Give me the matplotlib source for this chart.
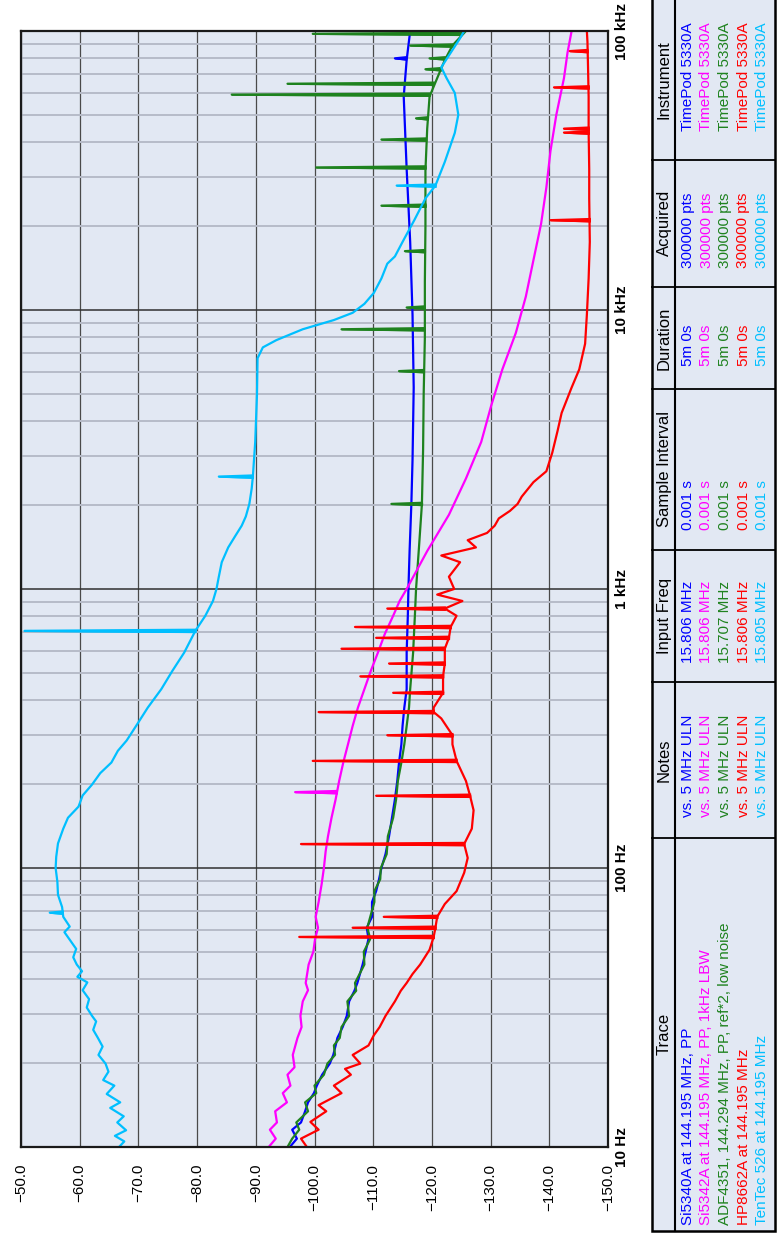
import numpy as np
import matplotlib
matplotlib.use("Agg")
import matplotlib.pyplot as plt
from matplotlib.lines import Line2D
from matplotlib.patches import Rectangle
from matplotlib.ticker import LogLocator, NullFormatter

plt.rcParams['font.family'] = ['Liberation Sans', 'DejaVu Sans']

W, H = 782, 1237

# offset frequency as log10(Hz), phase noise in dBc/Hz
si5340_logf = [1.000, 1.030, 1.062, 1.088, 1.128, 1.160, 1.193, 1.220, 1.259, 1.299,
               1.330, 1.364, 1.391, 1.430, 1.470, 1.522, 1.560, 1.588, 1.654, 1.700,
               1.746, 1.786, 1.825, 1.878, 1.917, 1.960, 2.000, 2.050, 2.114, 2.180,
               2.246, 2.312, 2.378, 2.443, 2.509, 2.575, 2.641, 2.772, 2.904, 3.000,
               3.136, 3.305, 3.462, 3.722, 3.983, 4.244, 4.505, 4.765, 4.896, 5.000]
si5340_dbc = [-95.8, -97.0, -96.2, -97.7, -98.4, -98.9, -99.9, -100.4, -101.3, -102.6,
              -103.2, -103.6, -103.9, -104.8, -105.5, -105.9, -106.8, -107.3, -108.2, -108.7,
              -109.2, -108.9, -109.8, -109.8, -110.5, -111.0, -111.4, -112.1, -112.7, -113.2,
              -113.7, -114.1, -114.4, -114.8, -115.0, -115.3, -115.7, -115.7, -115.9, -116.0,
              -116.2, -116.5, -116.7, -116.9, -116.7, -116.3, -115.7, -115.2, -115.7, -116.3]
si5340_spur_logf = [4.902]
si5340_spur_base = [-115.6]
si5340_spur_peak = [-113.7]

si5342_logf = [1.000, 1.030, 1.062, 1.088, 1.128, 1.160, 1.193, 1.220, 1.259, 1.286,
               1.330, 1.391, 1.430, 1.470, 1.522, 1.562, 1.588, 1.654, 1.700, 1.746,
               1.786, 1.825, 1.878, 1.940, 2.000, 2.060, 2.114, 2.180, 2.246, 2.312,
               2.378, 2.443, 2.509, 2.575, 2.641, 2.707, 2.772, 2.840, 2.904, 2.957,
               3.000, 3.136, 3.266, 3.396, 3.527, 3.657, 3.787, 3.918, 4.048, 4.179,
               4.309, 4.439, 4.570, 4.700, 4.831, 4.922, 5.000]
si5342_dbc = [-92.2, -93.4, -92.4, -93.6, -93.3, -95.3, -94.6, -95.9, -95.4, -96.6,
              -96.3, -97.1, -97.8, -97.6, -98.0, -98.9, -98.5, -99.0, -99.8, -100.1,
              -100.6, -100.2, -100.7, -101.2, -101.6, -101.9, -102.3, -102.9, -103.6, -104.2,
              -104.9, -105.7, -106.5, -107.4, -108.5, -109.6, -110.8, -112.0, -113.4, -114.5,
              -115.7, -119.2, -122.9, -125.8, -128.4, -130.1, -132.0, -134.3, -136.0, -137.3,
              -138.6, -139.5, -140.2, -141.2, -142.5, -143.1, -143.8]
si5342_spur_logf = [2.272]
si5342_spur_base = [-103.8]
si5342_spur_peak = [-96.7]

adf4351_logf = [1.000, 1.030, 1.062, 1.088, 1.128, 1.160, 1.193, 1.220, 1.259, 1.299,
                1.330, 1.364, 1.391, 1.430, 1.470, 1.522, 1.560, 1.588, 1.654, 1.700,
                1.746, 1.786, 1.825, 1.878, 1.917, 1.960, 2.000, 2.050, 2.114, 2.180,
                2.246, 2.312, 2.378, 2.443, 2.509, 2.575, 2.641, 2.772, 2.904, 3.000,
                3.150, 3.305, 3.500, 3.700, 3.900, 4.100, 4.300, 4.500, 4.650, 4.765,
                4.831, 4.896, 4.948, 5.000]
adf4351_dbc = [-95.4, -96.2, -97.4, -96.9, -98.9, -98.4, -100.3, -100.0, -101.6, -102.2,
               -103.5, -103.3, -104.3, -104.6, -105.9, -105.6, -107.1, -106.9, -108.5, -108.4,
               -109.5, -109.0, -109.5, -110.2, -110.2, -111.2, -111.3, -112.3, -112.5, -113.4,
               -113.9, -114.2, -114.8, -115.3, -115.7, -116.1, -116.3, -116.8, -117.1, -117.3,
               -117.8, -118.3, -118.5, -118.6, -118.8, -118.8, -118.9, -118.9, -119.2, -119.6,
               -120.9, -122.2, -123.5, -125.8]
adf4351_spur_logf = [3.305, 3.781, 3.931, 4.009, 4.211, 4.374, 4.511, 4.611, 4.687,
                     4.772, 4.811, 4.863, 4.902, 4.948, 4.990]
adf4351_spur_base = [-118.3, -118.6, -118.7, -118.7, -118.8, -118.9, -118.9, -119.0, -119.3,
                     -119.6, -120.3, -121.5, -122.2, -123.5, -125.0]
adf4351_spur_peak = [-113.1, -114.4, -104.6, -115.7, -115.4, -111.4, -100.3, -111.4, -117.3,
                     -85.9, -95.4, -118.9, -119.6, -116.3, -99.7]

hp8662_logf = [1.000, 1.030, 1.062, 1.090, 1.128, 1.150, 1.193, 1.220, 1.259, 1.280,
               1.299, 1.330, 1.364, 1.400, 1.430, 1.470, 1.522, 1.560, 1.588, 1.620,
               1.654, 1.707, 1.753, 1.786, 1.825, 1.871, 1.917, 1.983, 2.036, 2.086,
               2.141, 2.207, 2.259, 2.312, 2.384, 2.443, 2.476, 2.536, 2.559, 2.575,
               2.628, 2.687, 2.733, 2.786, 2.825, 2.864, 2.904, 2.930, 2.957, 2.980,
               3.000, 3.044, 3.096, 3.120, 3.149, 3.175, 3.201, 3.227, 3.253, 3.280,
               3.305, 3.331, 3.383, 3.422, 3.488, 3.566, 3.631, 3.722, 3.787, 3.879,
               3.983, 4.113, 4.244, 4.400, 4.505, 4.641, 4.765, 4.870, 4.961, 5.000]
hp8662_dbc = [-98.7, -97.7, -100.7, -99.3, -102.0, -100.7, -104.6, -103.3, -106.2, -105.2,
              -107.8, -106.5, -109.2, -110.1, -111.1, -112.1, -113.7, -114.7, -115.7, -116.7,
              -118.0, -119.6, -120.3, -120.6, -120.9, -122.2, -124.2, -125.5, -126.1, -125.5,
              -126.8, -127.1, -126.5, -125.8, -124.2, -123.5, -123.5, -121.6, -120.3, -120.3,
              -121.9, -121.9, -122.2, -122.2, -122.9, -123.2, -124.2, -122.2, -125.2, -120.9,
              -123.8, -122.9, -124.8, -121.6, -127.5, -126.1, -129.4, -130.7, -131.4, -133.3,
              -134.6, -135.3, -137.3, -139.5, -140.5, -141.4, -142.1, -143.8, -145.1, -146.1,
              -146.4, -146.7, -146.9, -146.8, -146.8, -146.7, -146.7, -146.6, -146.5, -146.4]
hp8662_spur_logf = [1.753, 1.786, 1.825, 2.086, 2.259, 2.384, 2.476, 2.559, 2.628, 2.687,
                    2.733, 2.786, 2.825, 2.864, 2.930, 4.322, 4.636, 4.650, 4.798, 4.928]
hp8662_spur_base = [-120.3, -120.6, -120.9, -125.5, -126.5, -124.2, -123.5, -120.3, -121.9, -121.9,
                    -122.2, -122.2, -122.9, -123.2, -122.2, -146.9, -146.7, -146.7, -146.7, -146.5]
hp8662_spur_peak = [-97.4, -106.5, -111.8, -97.7, -110.5, -99.7, -112.4, -100.7, -113.4, -107.8,
                    -112.7, -104.6, -110.5, -106.9, -112.4, -140.2, -142.5, -142.5, -140.8, -143.5]

tentec_logf = [1.000, 1.020, 1.040, 1.060, 1.088, 1.110, 1.140, 1.160, 1.190, 1.220,
               1.240, 1.270, 1.299, 1.330, 1.360, 1.391, 1.420, 1.450, 1.470, 1.500,
               1.530, 1.562, 1.590, 1.610, 1.630, 1.654, 1.680, 1.710, 1.746, 1.770,
               1.790, 1.825, 1.860, 1.904, 1.950, 2.000, 2.040, 2.088, 2.141, 2.180,
               2.220, 2.260, 2.299, 2.340, 2.378, 2.420, 2.457, 2.509, 2.575, 2.641,
               2.707, 2.772, 2.850, 2.904, 2.957, 3.000, 3.044, 3.096, 3.149, 3.190,
               3.227, 3.260, 3.305, 3.360, 3.403, 3.527, 3.696, 3.827, 3.866, 3.892,
               3.931, 3.964, 3.990, 4.022, 4.061, 4.113, 4.166, 4.192, 4.244, 4.322,
               4.400, 4.446, 4.531, 4.635, 4.700, 4.778, 4.831, 4.870, 4.922, 4.974,
               5.000]
tentec_dbc = [-66.7, -67.6, -66.0, -67.9, -66.4, -67.5, -65.2, -66.9, -64.6, -65.9,
              -64.0, -64.9, -64.4, -63.2, -63.9, -63.1, -62.3, -62.8, -62.1, -61.2,
              -61.6, -60.5, -61.3, -59.6, -60.4, -59.5, -58.9, -59.4, -58.2, -57.4,
              -58.3, -57.2, -57.0, -56.3, -56.2, -55.9, -56.0, -56.3, -57.2, -58.0,
              -59.8, -60.5, -62.1, -63.5, -65.4, -66.5, -68.0, -69.6, -71.6, -73.9,
              -75.8, -77.8, -79.7, -81.4, -82.7, -83.3, -83.7, -84.2, -85.3, -86.5,
              -87.6, -88.3, -88.9, -89.3, -89.5, -89.9, -90.2, -90.3, -91.2, -93.5,
              -98.0, -103.3, -106.5, -108.5, -110.1, -111.4, -112.4, -113.7, -115.0, -117.0,
              -118.9, -120.6, -122.2, -123.9, -124.5, -123.9, -122.5, -121.6, -123.2, -124.8,
              -125.5]
tentec_spur_logf = [1.840, 2.850, 3.403, 4.446]
tentec_spur_base = [-57.1, -79.7, -89.5, -120.6]
tentec_spur_peak = [-54.9, -50.6, -83.7, -114.0]

# table contents
trace_names = ["Si5340A at 144.195 MHz, PP",
               "Si5342A at 144.195 MHz, PP, 1kHz LBW",
               "ADF4351, 144.294 MHz, PP, ref*2, low noise",
               "HP8662A at 144.195 MHz",
               "TenTec 526 at 144.195 MHz"]
notes = ["vs. 5 MHz ULN", "vs. 5 MHz ULN", "vs. 5 MHz ULN", "vs. 5 MHz ULN", "vs. 5 MHz ULN"]
input_freq = ["15.806 MHz", "15.806 MHz", "15.707 MHz", "15.806 MHz", "15.805 MHz"]
sample_interval = ["0.001 s", "0.001 s", "0.001 s", "0.001 s", "0.001 s"]
duration = ["5m 0s", "5m 0s", "5m 0s", "5m 0s", "5m 0s"]
acquired = ["300000 pts", "300000 pts", "300000 pts", "300000 pts", "300000 pts"]
instrument = ["TimePod 5330A", "TimePod 5330A", "TimePod 5330A", "TimePod 5330A", "TimePod 5330A"]

colors = ["#0000FF", "#FF00FF", "#1E821E", "#FF0000", "#00BFFF"]

db_ticks = [-50, -60, -70, -80, -90, -100, -110, -120, -130, -140, -150]
freq_ticks = [10, 100, 1000, 10000, 100000]
freq_labels = ["10 Hz", "100 Hz", "1 kHz", "10 kHz", "100 kHz"]

BG = "#E2E8F3"
SPUR_W = 0.004
LW = 1.6


def fx(px):
    return px / W


def fy(py):
    return 1 - py / H


def draw_trace(ax, logf, dbc, spur_logf, spur_base, spur_peak, color):
    ax.plot(dbc, np.power(10.0, logf), color=color, lw=LW)
    # spurs drawn as thin spikes off the trace
    for lf, b, p in zip(spur_logf, spur_base, spur_peak):
        f = np.power(10.0, [lf - SPUR_W, lf, lf + SPUR_W])
        ax.fill_betweenx(f, [b, p, b], [b, b, b], color=color, lw=1.0)
        ax.plot([b, p, b], f, color=color, lw=LW)


fig = plt.figure(figsize=(W / 100, H / 100), dpi=100)
ax = fig.add_axes([fx(21), fy(1147), fx(608) - fx(21), fy(31) - fy(1147)])
ax.set_facecolor(BG)
ax.set_yscale('log')

draw_trace(ax, si5340_logf, si5340_dbc, si5340_spur_logf, si5340_spur_base, si5340_spur_peak, colors[0])
draw_trace(ax, adf4351_logf, adf4351_dbc, adf4351_spur_logf, adf4351_spur_base, adf4351_spur_peak, colors[2])
draw_trace(ax, si5342_logf, si5342_dbc, si5342_spur_logf, si5342_spur_base, si5342_spur_peak, colors[1])
draw_trace(ax, hp8662_logf, hp8662_dbc, hp8662_spur_logf, hp8662_spur_base, hp8662_spur_peak, colors[3])
draw_trace(ax, tentec_logf, tentec_dbc, tentec_spur_logf, tentec_spur_base, tentec_spur_peak, colors[4])

ax.set_xlim(-50, -150)
ax.set_ylim(10, 100000)

ax.set_xticks(db_ticks, [f"{t:.1f}".replace("-", "\u2212") for t in db_ticks],
              rotation=90, fontsize=11)
ax.yaxis.tick_right()
ax.set_yticks(freq_ticks, freq_labels, rotation=90, va='center', fontsize=11, fontweight='bold')
ax.yaxis.set_minor_locator(LogLocator(base=10, subs=np.arange(2, 10)))
ax.yaxis.set_minor_formatter(NullFormatter())
ax.tick_params(axis='x', length=0, pad=12)
ax.tick_params(axis='y', which='both', length=0, pad=5)

ax.grid(True, which='major', axis='x', color='#4A4A4A', lw=0.9)
ax.grid(True, which='major', axis='y', color='#303030', lw=1.1)
ax.grid(True, which='minor', axis='y', color='#B6BBC8', lw=1.4)
ax.set_axisbelow(True)
for sp in ax.spines.values():
    sp.set_color('#1A1A1A')
    sp.set_linewidth(1.6)

# rotated info table on the right
t_left, t_hdr, t_right = 652, 675, 775
t_top, t_bottom = -5, 1231
col_edges = [160, 287, 389, 550, 682, 838]
headers = [("Instrument", 80), ("Acquired", 223), ("Duration", 338),
           ("Sample Interval", 469), ("Input Freq", 616), ("Notes", 760), ("Trace", 1034)]
row_x = [688, 706.5, 725, 743.5, 762]

fig.add_artist(Rectangle((fx(t_left), fy(t_bottom)), fx(t_right) - fx(t_left),
                         fy(t_top) - fy(t_bottom), transform=fig.transFigure,
                         facecolor=BG, edgecolor='black', lw=1.8))
fig.add_artist(Line2D([fx(t_hdr), fx(t_hdr)], [fy(t_top), fy(t_bottom)],
                      transform=fig.transFigure, color='black', lw=1.5))
for e in col_edges:
    fig.add_artist(Line2D([fx(t_left), fx(t_right)], [fy(e), fy(e)],
                          transform=fig.transFigure, color='black', lw=1.3))

for name, yc in headers:
    fig.text(fx(664), fy(yc), name, rotation=90, ha='center', va='center', fontsize=12)

columns = [(instrument, 77), (acquired, 230), (duration, 345),
           (sample_interval, 505), (input_freq, 622), (notes, 766)]
for vals, yc in columns:
    for i, v in enumerate(vals):
        fig.text(fx(row_x[i]), fy(yc), v, rotation=90, ha='center', va='center',
                 fontsize=11, color=colors[i])
for i, v in enumerate(trace_names):
    fig.text(fx(row_x[i]), fy(1225), v, rotation=90, ha='center', va='bottom',
             fontsize=11, color=colors[i])

fig.savefig("out.png", dpi=100, facecolor='white')
